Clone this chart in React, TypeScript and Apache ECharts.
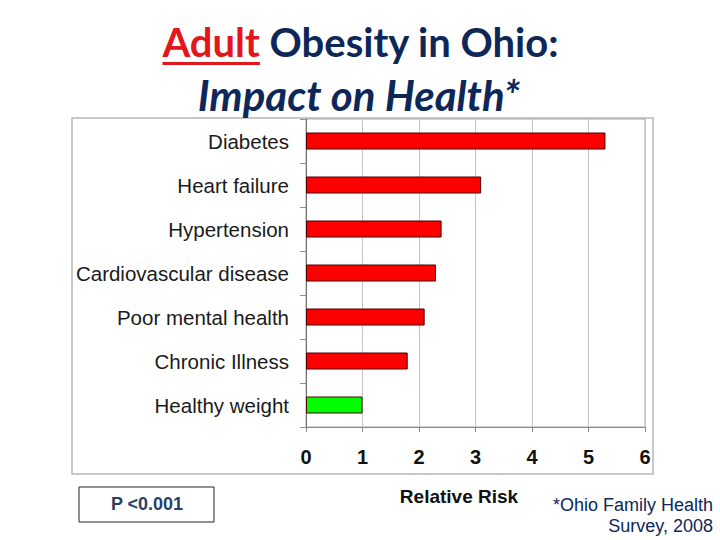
import React, { useEffect, useRef } from "react";
import * as echarts from "echarts";

const categories = [
  "Diabetes",
  "Heart failure",
  "Hypertension",
  "Cardiovascular disease",
  "Poor mental health",
  "Chronic Illness",
  "Healthy weight",
];
const relativeRisk = [5.3, 3.1, 2.4, 2.3, 2.1, 1.8, 1.0];
const barColors = ["#ff0000", "#ff0000", "#ff0000", "#ff0000", "#ff0000", "#ff0000", "#00ff00"];
const xTicks = [0, 1, 2, 3, 4, 5, 6];

const NAVY = "#0d2759";

function measure(text: string, font: string): number {
  const c = document.createElement("canvas").getContext("2d");
  if (!c) return text.length * 18;
  c.font = font;
  return c.measureText(text).width;
}

export default function App() {
  const ref = useRef<HTMLDivElement>(null);
  useEffect(() => {
    if (!ref.current) return;
    const chart = echarts.init(ref.current, undefined, { renderer: "svg" });

    const fontStr = `bold 40px Lato`;
    const wA = measure("Adult", fontStr);
    const wRest = measure(" Obesity in Ohio:", fontStr);
    const total = wA + wRest;
    const startX = 361 - total / 2;

    chart.setOption({
      animation: false,
      grid: { left: 306, top: 119, width: 339, height: 308, show: true, borderColor: "#a8a8a8", borderWidth: 1 },
      xAxis: {
        type: "value",
        min: 0,
        max: 6,
        interval: 1,
        axisLine: { show: true, lineStyle: { color: "#8a8a8a" } },
        axisTick: { show: true, length: 5, lineStyle: { color: "#8a8a8a" } },
        splitLine: { show: true, lineStyle: { color: "#c4c4c4", width: 1 } },
        axisLabel: {
          margin: 20,
          fontSize: 20,
          fontWeight: "bold",
          color: "#111",
          fontFamily: "'Liberation Sans', Arial, sans-serif",
          formatter: (v: number) => (xTicks.includes(v) ? String(v) : ""),
        },
      },
      yAxis: {
        type: "category",
        inverse: true,
        data: categories,
        axisLine: { show: true, lineStyle: { color: "#707070" } },
        axisTick: { show: true, length: 6, lineStyle: { color: "#909090" } },
        axisLabel: {
          margin: 17,
          fontSize: 20.5,
          color: "#1a1a1a",
          fontFamily: "'Liberation Sans', Arial, sans-serif",
        },
      },
      series: [
        {
          type: "bar",
          barWidth: 17,
          data: relativeRisk.map((v, i) => ({
            value: v,
            itemStyle: { color: barColors[i], borderColor: "#4a0000", borderWidth: 1 },
          })),
        },
      ],
      graphic: [
        {
          type: "rect",
          shape: { x: 72, y: 118, width: 581, height: 356 },
          style: { fill: "none", stroke: "#b8b8b8", lineWidth: 1.5 },
          z: -1,
        },
        {
          type: "text",
          x: startX,
          y: 42,
          style: {
            text: "Adult",
            font: fontStr,
            fill: "#e3161b",
            textAlign: "left",
            textVerticalAlign: "middle",
          },
        },
        {
          type: "rect",
          shape: { x: startX, y: 62, width: wA, height: 3 },
          style: { fill: "#e3161b" },
        },
        {
          type: "text",
          x: startX + wA,
          y: 42,
          style: {
            text: " Obesity in Ohio:",
            font: fontStr,
            fill: NAVY,
            textAlign: "left",
            textVerticalAlign: "middle",
          },
        },
        {
          type: "text",
          x: 359,
          y: 95,
          style: {
            text: "Impact on Health*",
            font: `italic bold 42px Lato`,
            fill: NAVY,
            textAlign: "center",
            textVerticalAlign: "middle",
          },
        },
        {
          type: "rect",
          shape: { x: 79, y: 487, width: 135, height: 35 },
          style: { fill: "#fff", stroke: "#222", lineWidth: 1 },
        },
        {
          type: "text",
          x: 147,
          y: 504,
          style: {
            text: "P <0.001",
            font: "bold 18px 'Liberation Sans', Arial, sans-serif",
            fill: "#2a3f66",
            textAlign: "center",
            textVerticalAlign: "middle",
          },
        },
        {
          type: "text",
          x: 459,
          y: 496,
          style: {
            text: "Relative Risk",
            font: "bold 19px 'Liberation Sans', Arial, sans-serif",
            fill: "#111",
            textAlign: "center",
            textVerticalAlign: "middle",
          },
        },
        {
          type: "text",
          x: 713,
          y: 505,
          style: {
            text: "*Ohio Family Health",
            font: "18px 'Liberation Sans', Arial, sans-serif",
            fill: NAVY,
            textAlign: "right",
            textVerticalAlign: "middle",
          },
        },
        {
          type: "text",
          x: 713,
          y: 526,
          style: {
            text: "Survey, 2008",
            font: "18px 'Liberation Sans', Arial, sans-serif",
            fill: NAVY,
            textAlign: "right",
            textVerticalAlign: "middle",
          },
        },
      ],
    });
    return () => chart.dispose();
  }, []);
  return (
    <div
      ref={ref}
      style={{ width: 720, height: 540, position: "absolute", left: 0, top: 0, background: "#fff" }}
    />
  );
}
